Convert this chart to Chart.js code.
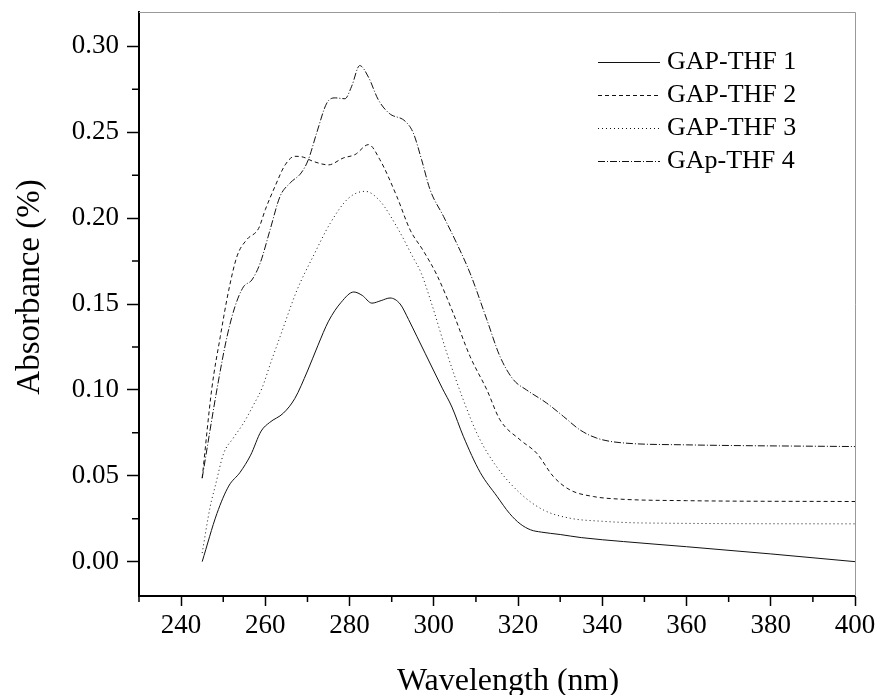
<!DOCTYPE html>
<html>
<head>
<meta charset="utf-8">
<script src="https://cdn.jsdelivr.net/npm/chart.js@4"></script>
<style>
    html, body { margin: 0; padding: 0; background: #fff; }
    #grafico { width: 877px; height: 695px; }
</style>
</head>
<body>
<div id="grafico"><canvas id="graficoAbs" width="877" height="695"></canvas></div>
<script>
// Nombres de las series (leyenda).
const nombres = ['GAP-THF 1', 'GAP-THF 2', 'GAP-THF 3', 'GAp-THF 4'];

// Serie 1 (línea continua).
const onda1 = [245, 248.5, 251.3, 254, 256.5, 259, 261, 264.3, 267, 270, 272.5, 275, 278, 281, 283, 285.3, 287.5, 289.6, 292, 294, 296, 298, 300, 302, 304.3, 307, 311, 315, 318, 320.5, 323, 325.5, 330, 335, 345, 360, 380, 400];
const abs1 = [0, 0.028, 0.044, 0.052, 0.062, 0.076, 0.081, 0.0865, 0.095, 0.111, 0.126, 0.140, 0.151, 0.157, 0.155, 0.1505, 0.152, 0.1535, 0.150, 0.141, 0.131, 0.121, 0.111, 0.101, 0.090, 0.073, 0.052, 0.038, 0.028, 0.022, 0.0185, 0.0172, 0.0158, 0.014, 0.0117, 0.0087, 0.0045, 0];

// Serie 2 (guiones).
const onda2 = [245, 247.3, 249.3, 251.3, 253.3, 255.6, 258.4, 260, 262.3, 264.7, 267, 269, 271.4, 275, 278.5, 281.3, 284.5, 287.2, 291.2, 294.4, 297.5, 300.7, 304.6, 308.6, 312.6, 315.7, 320.5, 324.4, 328.4, 332.3, 337.9, 344.2, 360, 400];
const abs2 = [0.0486, 0.101, 0.131, 0.158, 0.178, 0.1875, 0.194, 0.205, 0.2185, 0.231, 0.236, 0.2355, 0.233, 0.231, 0.235, 0.237, 0.2428, 0.234, 0.2127, 0.193, 0.181, 0.167, 0.1447, 0.1195, 0.100, 0.0826, 0.0709, 0.0632, 0.0495, 0.0418, 0.0379, 0.0364, 0.0355, 0.035];

// Serie 3 (puntos).
const onda3 = [245, 246.9, 248.1, 250.1, 252.4, 254.8, 257.2, 259.2, 261.3, 263.5, 267.5, 271.4, 275.4, 279.7, 283.7, 287.2, 291.2, 295.1, 297, 299.5, 303.1, 307, 310.6, 314.9, 320.5, 326, 332.3, 340, 350, 400];
const abs3 = [0.005, 0.032, 0.044, 0.063, 0.072, 0.0806, 0.0913, 0.101, 0.116, 0.131, 0.158, 0.178, 0.197, 0.2115, 0.2156, 0.210, 0.195, 0.177, 0.168, 0.150, 0.1214, 0.0942, 0.0728, 0.0553, 0.0398, 0.0301, 0.0253, 0.0235, 0.0225, 0.022];

// Serie 4 (guion-punto).
const onda4 = [245, 248.7, 250.9, 252.8, 254.8, 256.8, 258.8, 261.1, 263.5, 265.9, 268.5, 270.2, 272.2, 274.6, 276.6, 278.9, 280.5, 282.4, 284.5, 286.8, 289.4, 293.2, 295.1, 297.1, 299.1, 302.3, 305.4, 308.6, 312.6, 315.7, 318.9, 322, 326.8, 330.8, 334.7, 338.7, 344.2, 360, 400];
const abs4 = [0.0486, 0.103, 0.131, 0.1486, 0.160, 0.164, 0.174, 0.193, 0.2127, 0.2205, 0.2263, 0.234, 0.2497, 0.267, 0.270, 0.2695, 0.2768, 0.2888, 0.282, 0.269, 0.261, 0.2564, 0.2497, 0.234, 0.2166, 0.201, 0.1855, 0.168, 0.1408, 0.1195, 0.1059, 0.100, 0.0923, 0.0845, 0.0767, 0.0719, 0.0693, 0.068, 0.067];

// Marcas de los ejes.
const ticksX = [240, 260, 280, 300, 320, 340, 360, 380, 400];
const ticksXMenores = [230, 250, 270, 290, 310, 330, 350, 370, 390];
const ticksY = [0, 0.05, 0.10, 0.15, 0.20, 0.25, 0.30];
const ticksYMenores = [0.025, 0.075, 0.125, 0.175, 0.225, 0.275];

const fuente = "'Liberation Serif', 'Times New Roman', serif";
const trazos = [[], [4, 3], [1, 3], [7, 2, 1, 2]];

function armarPuntos(xs, ys) {
    return xs.map((x, i) => ({ x: x, y: ys[i] }));
}

const series = [[onda1, abs1], [onda2, abs2], [onda3, abs3], [onda4, abs4]];
const datasets = series.map((s, i) => ({
    label: nombres[i],
    data: armarPuntos(s[0], s[1]),
    borderColor: '#111',
    borderWidth: 1,
    borderDash: trazos[i],
    pointRadius: 0,
    fill: false,
    cubicInterpolationMode: 'monotone'
}));

//Plugin para marco, marcas menores, títulos de ejes y leyenda.
const extras = {
    id: 'extras',
    afterDraw(chart) {
        const ctx = chart.ctx;
        const area = chart.chartArea;
        const sx = chart.scales.x;
        const sy = chart.scales.y;
        ctx.save();

        // Marco superior y derecho.
        ctx.strokeStyle = '#999';
        ctx.lineWidth = 1;
        ctx.beginPath();
        ctx.moveTo(area.left, area.top + 0.5);
        ctx.lineTo(area.right + 0.5, area.top + 0.5);
        ctx.lineTo(area.right + 0.5, area.bottom);
        ctx.stroke();

        // Marcas menores.
        ctx.strokeStyle = '#000';
        ctx.lineWidth = 1.5;
        ctx.beginPath();
        ticksXMenores.forEach(v => {
            const px = sx.getPixelForValue(v);
            ctx.moveTo(px, area.bottom);
            ctx.lineTo(px, area.bottom + 6);
        });
        ticksYMenores.forEach(v => {
            const py = sy.getPixelForValue(v);
            ctx.moveTo(area.left, py);
            ctx.lineTo(area.left - 7, py);
        });
        ctx.stroke();

        // Títulos de ejes.
        ctx.fillStyle = '#000';
        ctx.font = '32px ' + fuente;
        ctx.textAlign = 'center';
        ctx.textBaseline = 'alphabetic';
        ctx.fillText('Wavelength (nm)', 508, 690);
        ctx.font = '33px ' + fuente;
        ctx.translate(39, 287);
        ctx.rotate(-Math.PI / 2);
        ctx.fillText('Absorbance (%)', 0, 0);
        ctx.setTransform(1, 0, 0, 1, 0, 0);

        // Leyenda.
        ctx.font = '26px ' + fuente;
        ctx.textAlign = 'left';
        ctx.textBaseline = 'middle';
        chart.data.datasets.forEach((d, i) => {
            const y = 62 + i * 33;
            ctx.strokeStyle = '#111';
            ctx.lineWidth = 1;
            ctx.setLineDash(d.borderDash);
            ctx.beginPath();
            ctx.moveTo(598, y + 0.5);
            ctx.lineTo(660, y + 0.5);
            ctx.stroke();
            ctx.setLineDash([]);
            ctx.fillText(d.label, 667, y);
        });
        ctx.restore();
    }
};

const ctx = document.querySelector('#graficoAbs').getContext('2d');
const myChart = new Chart(ctx, {
    type: 'line',
    data: { datasets: datasets },
    plugins: [extras],
    options: {
        responsive: false,
        animation: false,
        devicePixelRatio: 1,
        layout: { padding: { top: 12, right: 22, left: 0, bottom: 0 } },
        plugins: {
            legend: { display: false },
            tooltip: { enabled: false }
        },
        scales: {
            x: {
                type: 'linear',
                min: 230,
                max: 400,
                afterBuildTicks: s => { s.ticks = ticksX.map(v => ({ value: v })); },
                afterFit: s => { s.height = 99; s.paddingLeft = 0; s.paddingRight = 0; },
                ticks: {
                    color: '#000',
                    font: { family: fuente, size: 27 },
                    padding: 4,
                    maxRotation: 0,
                    autoSkip: false
                },
                grid: { drawOnChartArea: false, tickLength: 10, tickColor: '#000', tickWidth: 1.5 },
                border: { color: '#000', width: 2 }
            },
            y: {
                min: -0.02,
                max: 0.32,
                afterBuildTicks: s => { s.ticks = ticksY.map(v => ({ value: v })); },
                afterFit: s => { s.width = 139; s.paddingTop = 0; s.paddingBottom = 0; },
                ticks: {
                    color: '#000',
                    font: { family: fuente, size: 27 },
                    padding: 8,
                    autoSkip: false,
                    callback: v => v.toFixed(2)
                },
                grid: { drawOnChartArea: false, tickLength: 12, tickColor: '#000', tickWidth: 1.5 },
                border: { color: '#000', width: 2 }
            }
        }
    }
});
</script>
</body>
</html>
